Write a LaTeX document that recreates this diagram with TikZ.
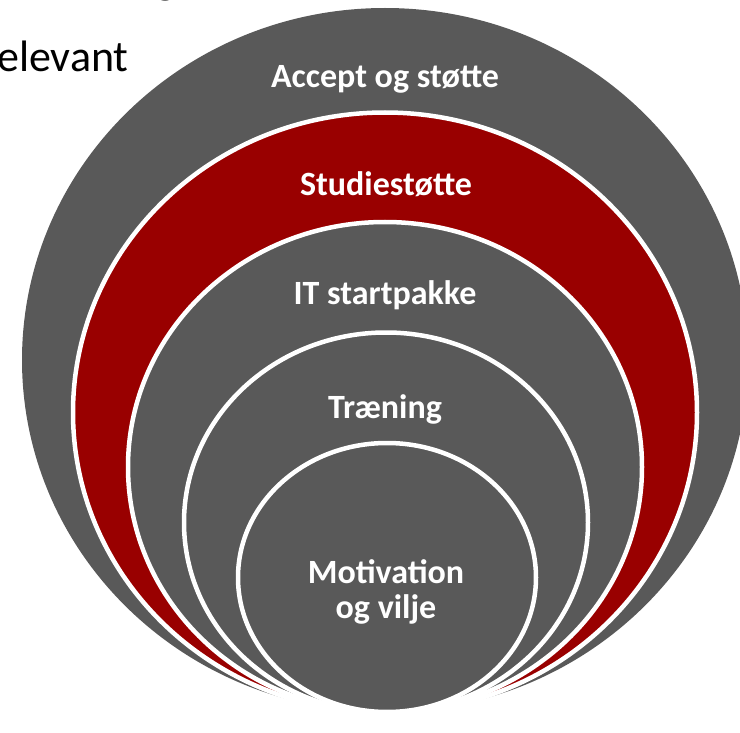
\documentclass[tikz,border=0pt]{standalone}
\usepackage{fontspec}
\setmainfont{Carlito}
\definecolor{ringgray}{HTML}{595959}
\definecolor{ringred}{HTML}{990000}
\begin{document}
\begin{tikzpicture}[x=1pt,y=-1pt,
  ring/.style={draw=white, line width=4.5pt},
  lbl/.style={text=white, font=\fontsize{34}{35}\selectfont\bfseries, align=center, inner sep=0pt},
  slide/.style={text=black, font=\fontsize{44}{46}\selectfont, inner sep=0pt}]
\useasboundingbox (0,0) rectangle (740,733);
\clip (0,0) rectangle (740,733);
% slide text behind the diagram
\node[slide, anchor=base west] (top) at (155,-6) {g};
\node[slide, anchor=base west] (rel) at (-3,72) {elevant};
% nested rings
\coordinate (c1) at (385,360);
\coordinate (c2) at (385,412.5);
\coordinate (c3) at (385,467);
\coordinate (c4) at (386,522.5);
\coordinate (c5) at (387,577.5);
\path[ring, fill=ringgray, draw=none] (c1) ellipse [x radius=363pt, y radius=352pt];
\path[ring, fill=ringred] (c2) ellipse [x radius=312pt, y radius=300pt];
\path[ring, fill=ringgray] (c3) ellipse [x radius=257pt, y radius=245pt];
\path[ring, fill=ringgray] (c4) ellipse [x radius=202pt, y radius=190pt];
\path[ring, fill=ringgray] (c5) ellipse [x radius=149pt, y radius=134.5pt];
% labels
\node[lbl, anchor=base] (l1) at (385,88) {Accept og støtte};
\node[lbl, anchor=base] (l2) at (386,196) {Studiestøtte};
\node[lbl, anchor=base] (l3) at (385,305) {IT startpakke};
\node[lbl, anchor=base] (l4) at (385,418) {Træning};
\node[lbl, anchor=center] (l5) at (386,592) {Motivation\\og vilje};
\end{tikzpicture}
\end{document}
